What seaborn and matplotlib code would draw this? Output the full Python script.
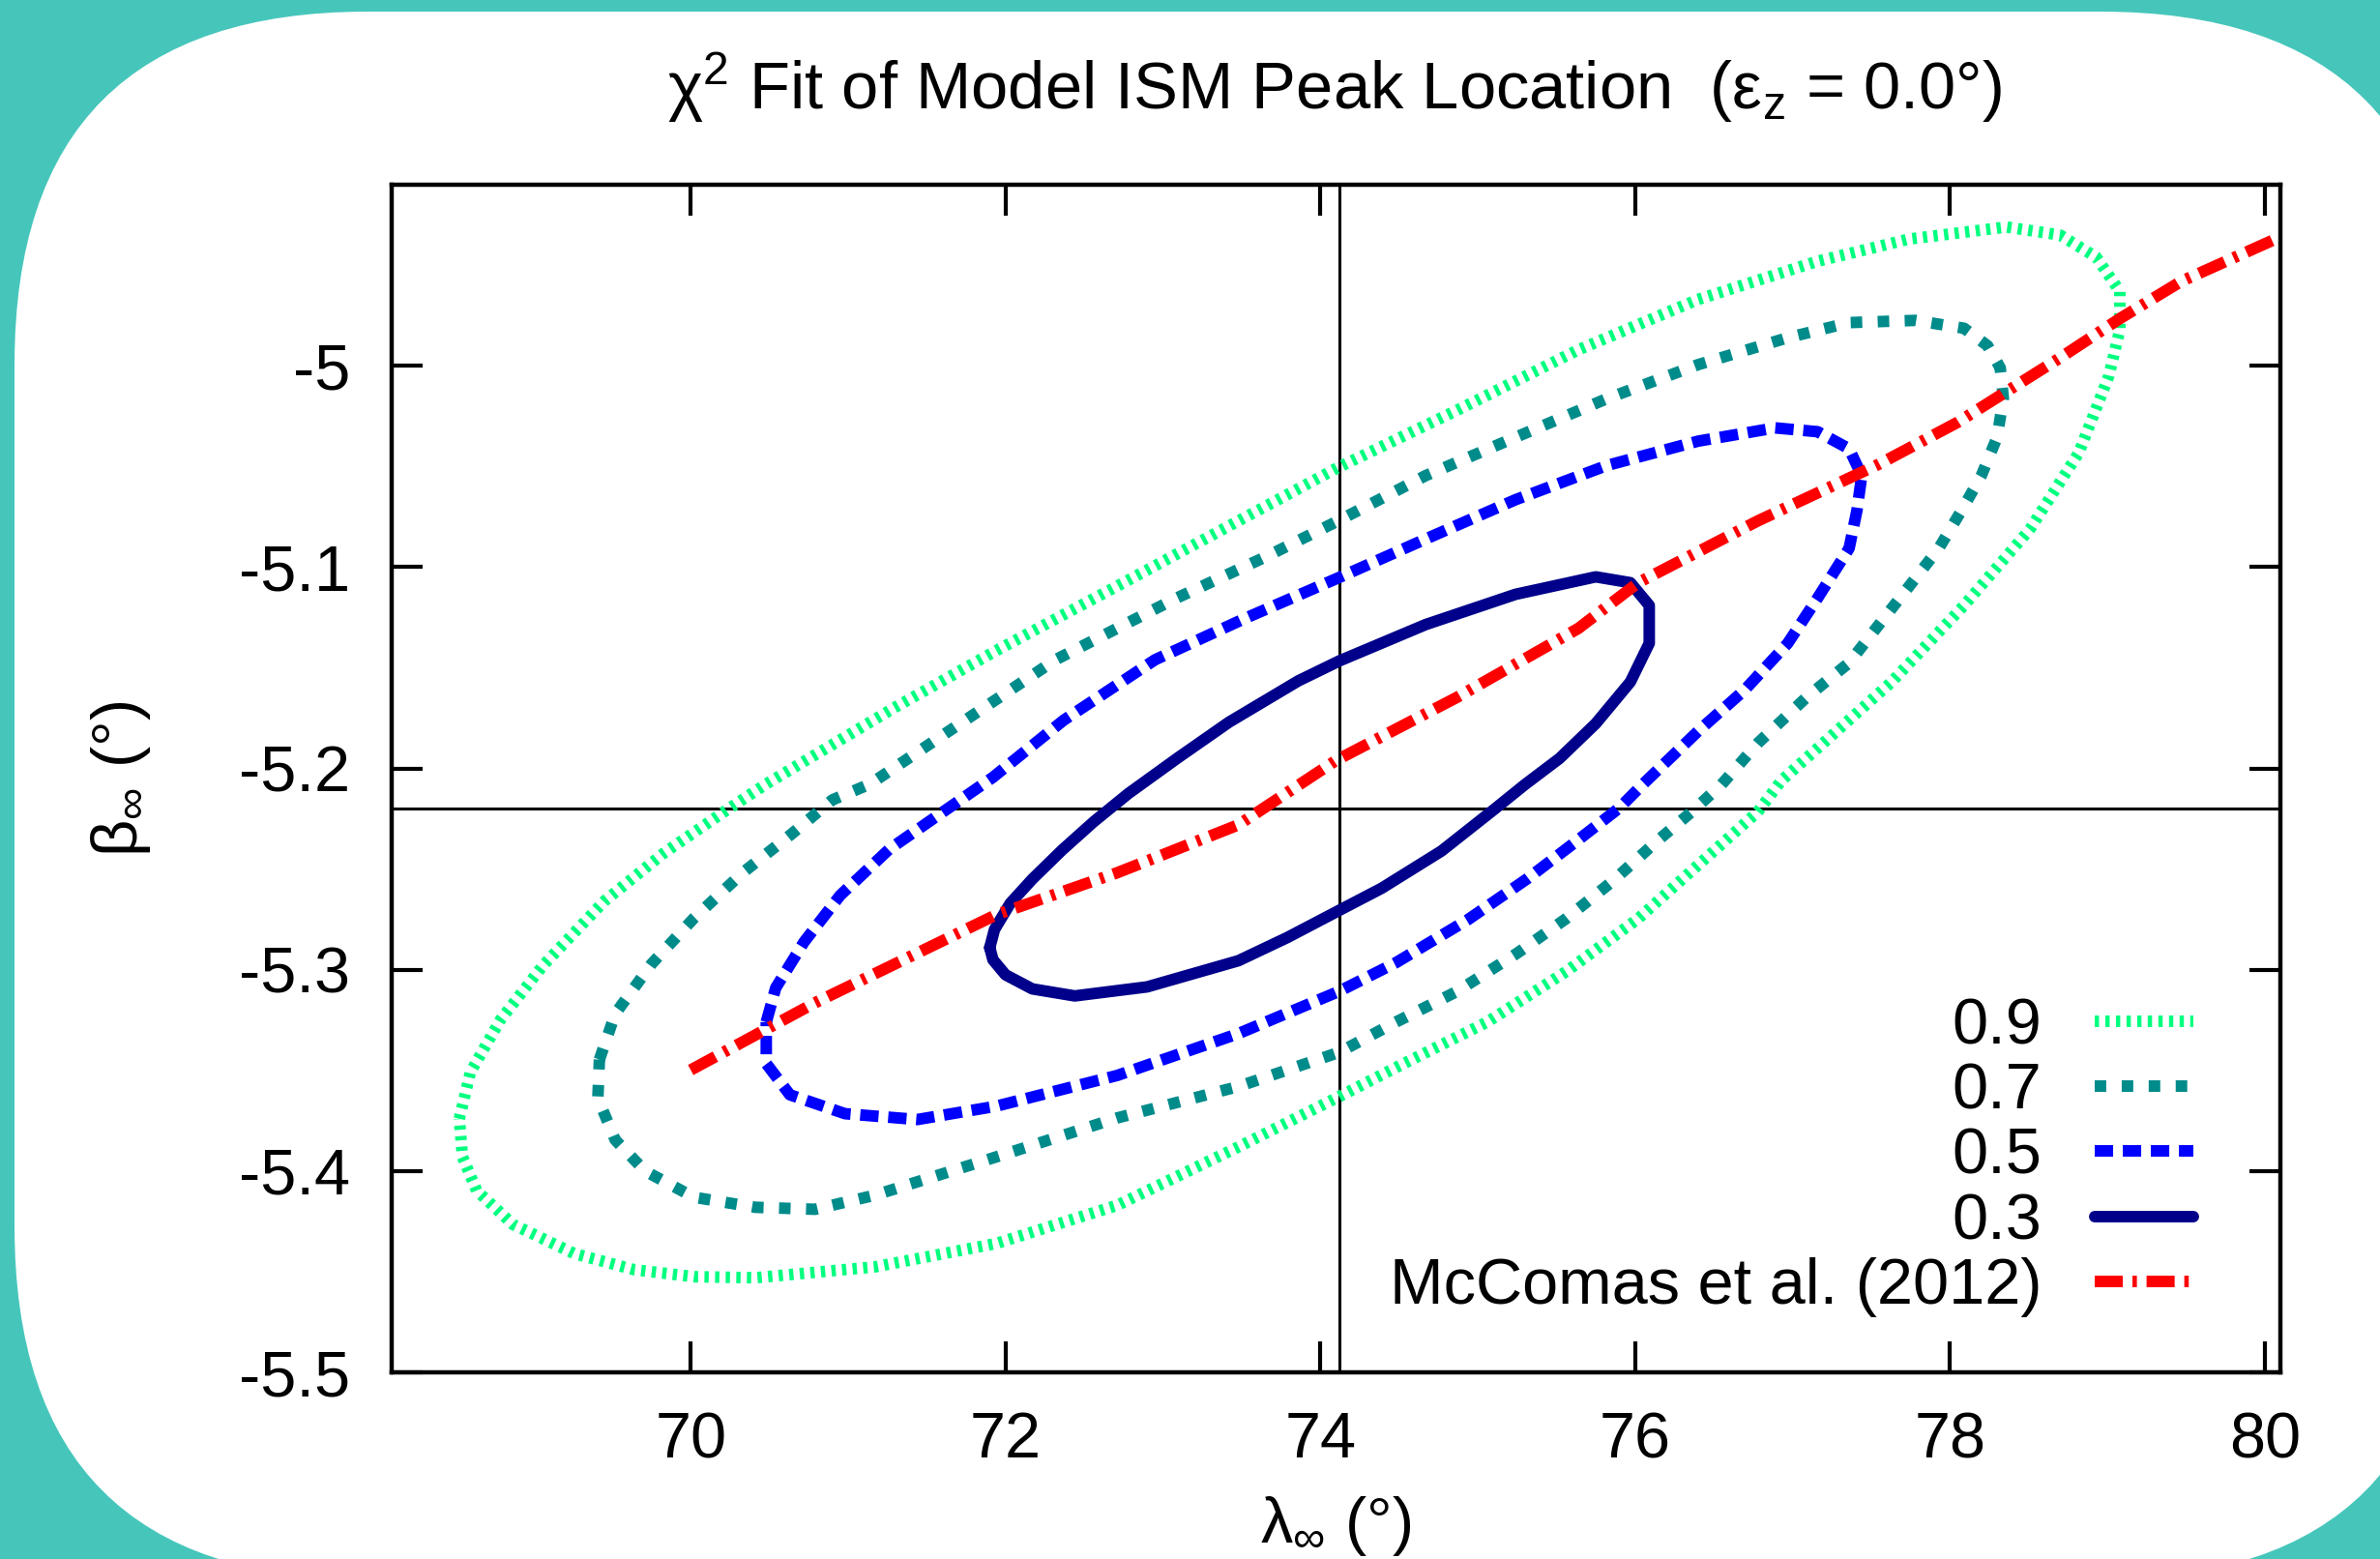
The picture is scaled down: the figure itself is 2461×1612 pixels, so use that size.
import numpy as np
import pandas as pd
import matplotlib
matplotlib.use("Agg")
import matplotlib.pyplot as plt
import seaborn as sns
from matplotlib.patches import FancyBboxPatch

# ---------------- data ----------------
c09_lam = [68.53, 68.60, 68.79, 69.06, 69.45, 69.83, 70.25, 70.48, 71.29, 71.94, 72.71, 73.48,
           74.11, 74.87, 75.64, 76.40, 77.16, 77.74, 78.36, 78.70, 78.93, 79.08, 79.08, 79.01,
           78.82, 78.51, 78.09, 77.63, 76.93, 76.78, 76.40, 76.02, 75.56, 75.06, 74.48, 74.12,
           73.48, 72.71, 71.94, 71.17, 70.41, 70.02, 69.64, 69.26, 68.87, 68.64, 68.55, 68.53]
c09_beta = [-5.374, -5.351, -5.325, -5.298, -5.266, -5.242, -5.2195, -5.2077, -5.170, -5.1415,
            -5.1094, -5.077, -5.0506, -5.022, -4.992, -4.967, -4.948, -4.937, -4.931, -4.935,
            -4.946, -4.963, -4.982, -5.005, -5.043, -5.081, -5.119, -5.157, -5.206, -5.2215,
            -5.248, -5.2746, -5.301, -5.326, -5.3486, -5.363, -5.388, -5.417, -5.436, -5.4476,
            -5.453, -5.4525, -5.449, -5.441, -5.4265, -5.4097, -5.393, -5.374]

c07_lam = [69.42, 69.52, 69.75, 70.02, 70.33, 70.64, 70.90, 71.14, 71.67, 72.32, 73.08, 73.66,
           74.10, 74.67, 75.24, 75.82, 76.40, 76.97, 77.36, 77.78, 78.09, 78.24, 78.32, 78.34,
           78.30, 78.20, 78.09, 77.93, 77.74, 77.55, 77.36, 77.09, 76.78, 76.55, 76.36, 76.13,
           75.86, 75.56, 75.25, 74.87, 74.48, 74.12, 73.48, 72.71, 71.94, 71.17, 70.79, 70.41,
           70.02, 69.71, 69.52, 69.41, 69.42]
c07_beta = [-5.3446, -5.3219, -5.2972, -5.2744, -5.2518, -5.2326, -5.2156, -5.2077, -5.1799,
            -5.1459, -5.1156, -5.0946, -5.0775, -5.0545, -5.0355, -5.0163, -4.9994, -4.986,
            -4.9785, -4.9774, -4.9813, -4.990, -5.001, -5.016, -5.0355, -5.0545, -5.0697,
            -5.0906, -5.1096, -5.1285, -5.1475, -5.1646, -5.1874, -5.2079, -5.2215, -5.2367,
            -5.2558, -5.2747, -5.2918, -5.3107, -5.326, -5.341, -5.358, -5.3736, -5.393,
            -5.412, -5.419, -5.418, -5.413, -5.400, -5.3845, -5.3638, -5.3446]

c05_lam = [70.48, 70.54, 70.72, 70.95, 71.26, 71.61, 71.92, 72.37, 72.95, 73.52, 74.10, 74.67,
           75.24, 75.82, 76.40, 76.89, 77.16, 77.36, 77.44, 77.41, 77.36, 77.16, 76.97, 76.70,
           76.40, 76.05, 75.90, 75.63, 75.32, 74.94, 74.48, 74.12, 73.48, 72.71, 71.94, 71.44,
           70.98, 70.63, 70.48, 70.48]
c05_beta = [-5.326, -5.309, -5.2862, -5.263, -5.2402, -5.2212, -5.2044, -5.176, -5.146, -5.1255,
            -5.1058, -5.0860, -5.0665, -5.0495, -5.0374, -5.0308, -5.0327, -5.0412, -5.0545,
            -5.0716, -5.0906, -5.1153, -5.1378, -5.1607, -5.1815, -5.2078, -5.2196, -5.236,
            -5.2545, -5.2750, -5.2965, -5.3107, -5.3317, -5.3525, -5.3678, -5.3744, -5.3715,
            -5.3621, -5.3466, -5.326]

c03_lam = [71.90, 71.93, 72.03, 72.17, 72.36, 72.56, 72.78, 73.09, 73.42, 73.86, 74.12, 74.67,
           75.24, 75.75, 75.97, 76.09, 76.09, 75.97, 75.75, 75.52, 75.30, 75.11, 74.77, 74.39,
           74.12, 73.79, 73.48, 72.90, 72.44, 72.17, 72.00, 71.92, 71.90]
c03_beta = [-5.289, -5.280, -5.267, -5.255, -5.2405, -5.2265, -5.2125, -5.195, -5.177, -5.1565,
            -5.1466, -5.1285, -5.1135, -5.1048, -5.1077, -5.119, -5.1378, -5.157, -5.1777,
            -5.195, -5.208, -5.220, -5.241, -5.2595, -5.2705, -5.2840, -5.2955, -5.3085,
            -5.313, -5.3095, -5.3025, -5.2950, -5.289]

mccomas_lam = [70.0, 70.79, 71.94, 72.71, 73.48, 74.10, 74.87, 75.64, 76.02, 76.78, 77.55, 78.05,
               78.70, 79.08, 79.47, 80.08]
mccomas_beta = [-5.3498, -5.3164, -5.2727, -5.2518, -5.228, -5.196, -5.1646, -5.1304, -5.1077,
                -5.077, -5.0488, -5.028, -4.996, -4.9765, -4.958, -4.9366]

ref_lambda = 74.12
ref_beta = -5.22

series_labels = ["0.9", "0.7", "0.5", "0.3", "McComas et al. (2012)"]
x_ticks = [70, 72, 74, 76, 78, 80]
x_ticklabels = ["70", "72", "74", "76", "78", "80"]
y_ticks = [-5.5, -5.4, -5.3, -5.2, -5.1, -5.0]
y_ticklabels = ["-5.5", "-5.4", "-5.3", "-5.2", "-5.1", "-5"]

title_text = r"$\mathregular{χ^2}$ Fit of Model ISM Peak Location  ($\mathregular{ε_z}$ = 0.0°)"
xlabel_text = r"$\mathregular{λ_∞}$ (°)"
ylabel_text = r"$\mathregular{β_∞}$ (°)"

# ---------------- style ----------------
sns.set_theme(style="ticks")
plt.rcParams['font.family'] = ['Liberation Sans', 'DejaVu Sans']
plt.rcParams['mathtext.fontset'] = 'custom'
plt.rcParams['mathtext.rm'] = 'Liberation Sans'
plt.rcParams['mathtext.it'] = 'Liberation Sans'
plt.rcParams['mathtext.bf'] = 'Liberation Sans:bold'
plt.rcParams['axes.unicode_minus'] = False
plt.rcParams['lines.scale_dashes'] = False
plt.rcParams['text.color'] = 'black'
plt.rcParams['axes.labelcolor'] = 'black'
plt.rcParams['xtick.color'] = 'black'
plt.rcParams['ytick.color'] = 'black'
plt.rcParams['axes.edgecolor'] = 'black'

W, H = 2461, 1612
FS = 48
LW = 8.6

fig = plt.figure(figsize=(W / 100, H / 100), dpi=100, facecolor='#46C6BB')

bg = fig.add_axes([0, 0, 1, 1], zorder=-10)
bg.set_xlim(0, W)
bg.set_ylim(H, 0)
bg.axis('off')
bg.add_patch(FancyBboxPatch((15, 12), 2522, 1621,
                            boxstyle="round,pad=0,rounding_size=365",
                            fc='white', ec='none'))

ax = fig.add_axes([405 / W, 1 - 1419 / H, (2358 - 405) / W, (1419 - 191) / H])
ax.set_facecolor('none')

ax.axhline(ref_beta, color='black', lw=2.2, zorder=1)
ax.axvline(ref_lambda, color='black', lw=2.2, zorder=1)

specs = [
    (c09_lam, c09_beta, '#00FF7F', (0, (3.2, 4.7))),
    (c07_lam, c07_beta, '#008B8B', (0, (8.6, 11.5))),
    (c05_lam, c05_beta, '#0000FF', (0, (13.7, 7.2))),
    (c03_lam, c03_beta, '#00008B', '-'),
    (mccomas_lam, mccomas_beta, '#FF0000', (0, (20.9, 7.2, 3.3, 7.2))),
]
for (lam, beta, col, ls), lab in zip(specs, series_labels):
    sns.lineplot(x=lam, y=beta, sort=False, estimator=None, color=col, lw=LW,
                 linestyle=ls, label=lab, ax=ax, zorder=3)

ax.set_xlim(68.1, 80.1)
ax.set_ylim(-5.5, -4.91)
ax.set_xticks(x_ticks)
ax.set_xticklabels(x_ticklabels)
ax.set_yticks(y_ticks)
ax.set_yticklabels(y_ticklabels)
ax.minorticks_off()

for sp in ax.spines.values():
    sp.set_visible(True)
    sp.set_linewidth(3.2)
    sp.set_color('black')

ax.tick_params(axis='both', direction='in', length=23, width=3.0, color='black',
               top=True, right=True, labelsize=FS, labelcolor='black')
ax.tick_params(axis='y', pad=31)
ax.tick_params(axis='x', pad=29)

ax.set_xlabel(xlabel_text, fontsize=FS, color='black')
ax.set_ylabel(ylabel_text, fontsize=FS, color='black')
ax.xaxis.set_label_coords(0.5, -(1545 - 1419) / (1419 - 191))
ax.yaxis.set_label_coords(-(405 - 158) / (2358 - 405), 0.5)

fig.text(1380 / W, 1 - 113 / H, title_text, ha='center', va='baseline',
         fontsize=49.5, color='black')

handles, labels = ax.get_legend_handles_labels()
leg = ax.legend(handles, labels, loc='upper right',
                bbox_to_anchor=(2268 / W, 1 - 1031 / H), bbox_transform=fig.transFigure,
                frameon=False, markerfirst=False, fontsize=FS, handlelength=1.53,
                handletextpad=0.82, labelspacing=0.08, borderpad=0, borderaxespad=0)
for t in leg.get_texts():
    t.set_color('black')

fig.savefig("out.png", dpi=100, facecolor=fig.get_facecolor())
